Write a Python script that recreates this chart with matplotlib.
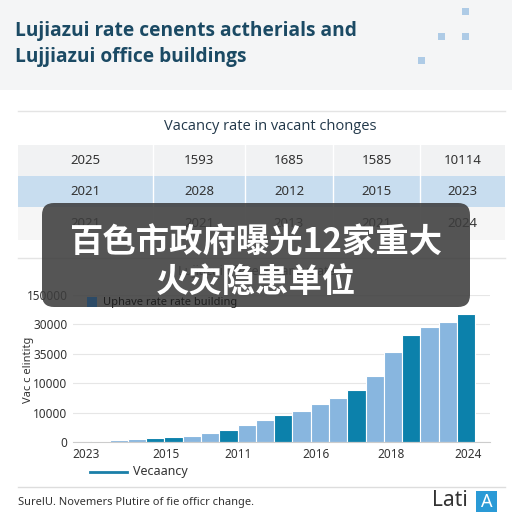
import matplotlib
matplotlib.use("Agg")
import matplotlib.pyplot as plt
from matplotlib.patches import Rectangle, FancyBboxPatch

# header / table text
title_lines = ["Lujiazui rate cenents actherials and", "Lujjiazui office buildings"]
table_title = "Vacancy rate in vacant chonges"
table_rows = [
    ["2025", "1593", "1685", "1585", "10114"],
    ["2021", "2028", "2012", "2015", "2023"],
    ["2021", "2021", "2013", "2021", "2024"],
]

# bar chart data
bar_values = [150, 450, 700, 1000, 1300, 1600, 2100, 3000, 4100, 5800, 7600,
              9300, 10700, 12800, 14800, 17600, 22400, 30600, 36400, 39100,
              40800, 43500]
bar_dark = [0, 1, 0, 0, 1, 1, 0, 0, 1, 0, 0, 1, 0, 0, 0, 1, 0, 0, 1, 0, 0, 1]
x_tick_pos = [0.2, 4.6, 8.5, 12.8, 16.9, 21.1]
x_tick_labels = ["2023", "2015", "2011", "2016", "2018", "2024"]
y_tick_vals = [0, 10000, 20000, 30000, 40000, 50000]
y_tick_labels = ["0", "10000", "10000", "35000", "30000", "150000"]

chart_title = "Lujiazui office vacancy rate"
y_label = "Vac c elintitg"
legend_top = "Uphave rate rate building"
legend_bottom = "Vecaancy"
footer = "SurelU. Novemers Plutire of fie officr change."
overlay_lines = ["百色市政府曝光12家重大", "火灾隐患单位"]

LIGHT = "#88b6df"
DARK = "#0c81ab"
TXT = "#333333"

plt.rcParams['font.family'] = ['Noto Sans', 'DejaVu Sans']

fig = plt.figure(figsize=(5.12, 5.12), dpi=100)

# background canvas in pixel coords
bg = fig.add_axes([0, 0, 1, 1])
bg.set_xlim(0, 512)
bg.set_ylim(512, 0)
bg.axis('off')

bg.add_patch(Rectangle((0, 0), 512, 90, color="#f4f5f6", lw=0))
for (sx, sy) in [(462, 8), (438, 33), (462, 33), (418, 57)]:
    bg.add_patch(Rectangle((sx, sy), 7, 7, color="#aecbe6", lw=0))
for i, line in enumerate(title_lines):
    bg.text(15, 31 + 26 * i, line, fontsize=13.8, fontweight='bold',
            family=['Open Sans', 'DejaVu Sans'],
            color="#1b4a64", va='center', ha='left')
bg.plot([18, 505], [111, 111], color="#e4e4e4", lw=1)

# table
bg.text(270, 127, table_title, fontsize=10.5, color="#22384a",
        family=['Open Sans', 'DejaVu Sans'], ha='center', va='center')
col_edges = [18, 153, 245, 333, 420, 505]
row_edges = [145, 176, 207, 240]
row_colors = ["#f1f2f3", "#c8ddef", "#f6f6f6"]
for r, row in enumerate(table_rows):
    y0, y1 = row_edges[r], row_edges[r + 1]
    bg.add_patch(Rectangle((col_edges[0], y0), col_edges[-1] - col_edges[0], y1 - y0,
                           color=row_colors[r], lw=0))
    for c, val in enumerate(row):
        cx = (col_edges[c] + col_edges[c + 1]) / 2
        bg.text(cx, (y0 + y1) / 2, val, fontsize=9.5, color=TXT, ha='center', va='center')
for xe in col_edges[1:-1]:
    bg.plot([xe, xe], [row_edges[0], row_edges[-1]], color="white", lw=1)

bg.plot([18, 505], [258, 258], color="#e4e4e4", lw=1)
bg.text(257, 271, chart_title, fontsize=9, color="#555555", ha='center', va='center')
bg.text(28, 370, y_label, fontsize=8, color=TXT, rotation=90, ha='center', va='center')

# chart
ax = fig.add_axes([73 / 512, 1 - 442 / 512, 417 / 512, 147 / 512])
colors = [DARK if d else LIGHT for d in bar_dark]
ax.bar(range(len(bar_values)), bar_values, width=1, color=colors,
       edgecolor="white", linewidth=0.8, zorder=2)
ax.set_xlim(-0.5, 22.3)
ax.set_ylim(0, 50000)
ax.set_yticks(y_tick_vals)
ax.set_yticklabels(y_tick_labels, fontsize=8.5, color=TXT)
ax.set_xticks(x_tick_pos)
ax.set_xticklabels(x_tick_labels, fontsize=8.5, color=TXT)
ax.tick_params(length=0, pad=4)
ax.grid(axis='y', color="#e6e6e6", lw=0.8, zorder=0)
for s in ["top", "right", "left"]:
    ax.spines[s].set_visible(False)
ax.spines["bottom"].set_color("#cccccc")
ax.patch.set_alpha(0)

# foreground canvas
fg = fig.add_axes([0, 0, 1, 1], zorder=10)
fg.set_xlim(0, 512)
fg.set_ylim(512, 0)
fg.axis('off')
fg.patch.set_alpha(0)

fg.plot([90, 127], [472, 472], color="#1a7fa8", lw=2)
fg.text(133, 472, legend_bottom, fontsize=9, color=TXT, va='center')

fg.plot([18, 505], [487, 487], color="#dddddd", lw=1)
fg.text(18, 502, footer, fontsize=8, color=TXT, va='center')
fg.text(432, 501, "Lati", fontsize=15, color=TXT, va='center')
fg.add_patch(Rectangle((476, 491), 21, 21, color="#2a9ad6", lw=0))
fg.text(486.5, 502, "A", fontsize=13, color="white", ha='center', va='center')

# overlay banner
fg.add_patch(FancyBboxPatch((42, 203), 428, 104,
                            boxstyle="round,pad=0,rounding_size=12",
                            fc="#3d3d3d", ec="none", alpha=0.88))
for i, line in enumerate(overlay_lines):
    fg.text(256, 243 + 40 * i, line, fontsize=24, fontweight='bold', color="white",
            ha='center', va='center', family=['Noto Sans CJK SC', 'DejaVu Sans'])

# top legend shows through the banner's lower edge
fg.add_patch(Rectangle((87, 297), 10, 10, color="#2c4a66", lw=0))
fg.text(103, 302, legend_top, fontsize=8, color="#1e1e1e", va='center')

fig.savefig("out.png", dpi=100)
